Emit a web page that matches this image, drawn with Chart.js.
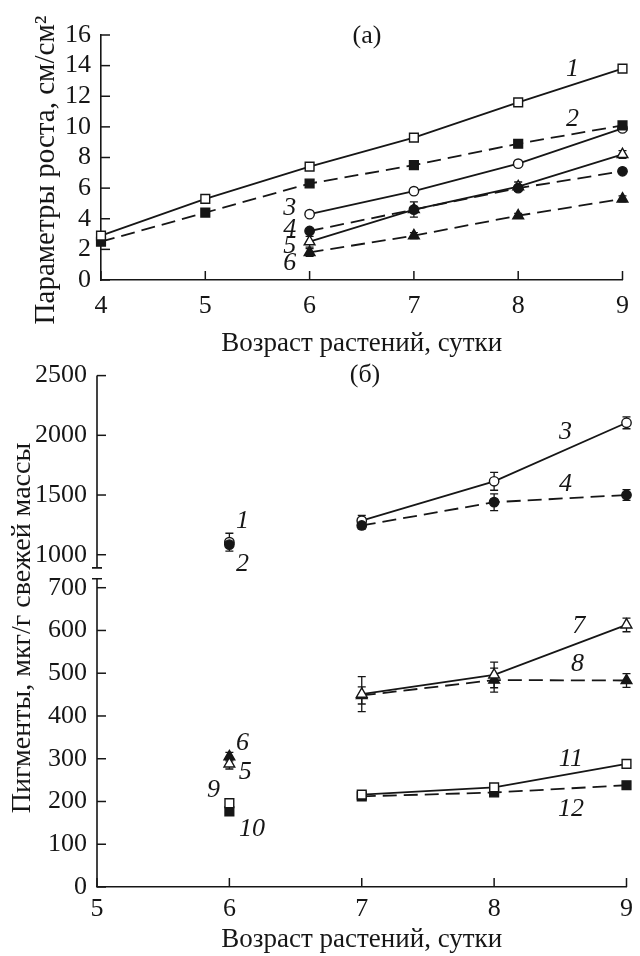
<!DOCTYPE html>
<html>
<head>
<meta charset="utf-8">
<script src="https://cdn.jsdelivr.net/npm/chart.js@4.4.1/dist/chart.umd.min.js"></script>
<style>
  html, body { margin: 0; padding: 0; background: #fff; }
  canvas { position: absolute; left: 0; }
  #chartA { top: 0; }
  #chartB { top: 350px; }
</style>
</head>
<body>
<canvas id="chartA" width="640" height="365"></canvas>
<canvas id="chartB" width="640" height="606"></canvas>
<script>
// ============================
// Данные: (а) параметры роста
// ============================
const daysA = [4, 5, 6, 7, 8, 9];
const daysLate = [6, 7, 8, 9];
const growth1 = [2.9, 5.3, 7.4, 9.3, 11.6, 13.8];
const growth2 = [2.5, 4.4, 6.3, 7.5, 8.9, 10.1];
const growth3 = [4.3, 5.8, 7.6, 9.9];
const growth4 = [3.2, 4.6, 6.0, 7.1];
const growth5 = [2.5, 4.6, 6.1, 8.2];
const growth6 = [1.8, 2.9, 4.2, 5.3];
const growth5Err = [0.35, 0.5, 0.3, 0.25];
const growth6Err = [0.25, 0.2, 0.15, 0.2];
const xTicksA = [4, 5, 6, 7, 8, 9];
const yTicksA = [0, 2, 4, 6, 8, 10, 12, 14, 16];

// ============================
// Данные: (б) пигменты
// ============================
const day6 = [6];
const daysB = [7, 8, 9];
const pig1 = [1105];
const pig1Err = [75];
const pig2 = [1085];
const pig3 = [1285, 1615, 2105];
const pig3Err = [45, 75, 50];
const pig4 = [1245, 1440, 1500];
const pig4Err = [30, 70, 45];
const pig5 = [288];
const pig5Err = [12];
const pig6 = [305];
const pig6Err = [10];
const pig7 = [451, 496, 613];
const pig7Err = [41, 30, 16];
const pig8 = [448, 484, 483];
const pig8Err = [20, 28, 16];
const pig9 = [196];
const pig10 = [177];
const pig11 = [216, 233, 288];
const pig12 = [212, 221, 238];
const xTicksB = [5, 6, 7, 8, 9];
const yTicksHigh = [1000, 1500, 2000, 2500];
const yTicksLow = [0, 100, 200, 300, 400, 500, 600, 700];

// подписи кривых (номер, x, y)
const curveLabelsA = [
  ["1", 8.52, 13.8], ["2", 8.52, 10.5], ["3", 5.81, 4.7],
  ["4", 5.81, 3.35], ["5", 5.81, 2.24], ["6", 5.81, 1.07],
];
const curveLabelsHigh = [
  ["1", 6.1, 1277], ["2", 6.1, 922], ["3", 8.54, 2027], ["4", 8.54, 1592],
];
const curveLabelsLow = [
  ["7", 8.64, 611], ["8", 8.63, 522], ["6", 6.1, 336], ["5", 6.12, 268],
  ["9", 5.88, 227], ["10", 6.17, 135], ["11", 8.58, 300], ["12", 8.58, 182],
];

// ============================
// Общие настройки
// ============================
const SERIF = '"Liberation Serif", "DejaVu Serif", serif';
const INK = "#161616";
Chart.defaults.font.family = SERIF;
Chart.defaults.color = INK;

function makeSet(xs, ys, shape, filled, dashed, extra) {
  return Object.assign(
    {
      data: xs.map((x, i) => ({ x: x, y: ys[i] })),
      borderColor: INK,
      borderWidth: 1.8,
      borderDash: dashed ? [14, 7] : [],
      pointStyle: shape,
      pointRadius: shape === "circle" ? 4.7 : 6.2,
      pointBorderWidth: 1.4,
      pointBorderColor: INK,
      pointBackgroundColor: filled ? INK : "#ffffff",
      fill: false,
      tension: 0,
      clip: false,
    },
    extra || {}
  );
}

function useTicks(list) {
  return function (scale) {
    scale.ticks = list.map((v) => ({ value: v }));
  };
}

const plainTicks = {
  font: { size: 26, family: SERIF },
  color: INK,
  autoSkip: false,
  maxRotation: 0,
  callback: (v) => String(v),
};

// планки погрешностей
const errorBars = {
  id: "errorBars",
  beforeDatasetsDraw(chart) {
    const ctx = chart.ctx;
    ctx.save();
    ctx.strokeStyle = INK;
    ctx.lineWidth = 1.3;
    chart.data.datasets.forEach((ds, di) => {
      if (!ds.errors) return;
      const meta = chart.getDatasetMeta(di);
      const yScale = chart.scales[meta.yAxisID];
      meta.data.forEach((pt, i) => {
        const v = ds.data[i].y;
        const e = ds.errors[i];
        if (!e) return;
        const top = yScale.getPixelForValue(v + e);
        const bot = yScale.getPixelForValue(v - e);
        ctx.beginPath();
        ctx.moveTo(pt.x, top);
        ctx.lineTo(pt.x, bot);
        ctx.moveTo(pt.x - 4, top);
        ctx.lineTo(pt.x + 4, top);
        ctx.moveTo(pt.x - 4, bot);
        ctx.lineTo(pt.x + 4, bot);
        ctx.stroke();
      });
    });
    ctx.restore();
  },
};

// засечки внутрь области графика
const innerTicks = {
  id: "innerTicks",
  afterDraw(chart) {
    const ctx = chart.ctx;
    const area = chart.chartArea;
    ctx.save();
    ctx.strokeStyle = INK;
    ctx.lineWidth = 1.5;
    Object.values(chart.scales).forEach((scale) => {
      scale.ticks.forEach((t) => {
        const p = scale.getPixelForValue(t.value);
        ctx.beginPath();
        if (scale.isHorizontal()) {
          ctx.moveTo(p, area.bottom);
          ctx.lineTo(p, area.bottom - 9);
        } else {
          ctx.moveTo(area.left, p);
          ctx.lineTo(area.left + 9, p);
        }
        ctx.stroke();
      });
    });
    ctx.restore();
  },
};

// текст поверх графика: номера кривых, буква панели, подпись оси Y
const textMarks = {
  id: "textMarks",
  afterDraw(chart, args, opts) {
    const ctx = chart.ctx;
    ctx.save();
    ctx.fillStyle = INK;
    ctx.textAlign = "center";
    ctx.textBaseline = "middle";
    ctx.font = "italic 26px " + SERIF;
    opts.groups.forEach((g) => {
      const xs = chart.scales.x;
      const ys = chart.scales[g.axis];
      g.labels.forEach(([txt, x, y]) => {
        ctx.fillText(txt, xs.getPixelForValue(x), ys.getPixelForValue(y));
      });
    });
    ctx.font = "26px " + SERIF;
    ctx.fillText(opts.panel, opts.panelX, opts.panelY);
    ctx.translate(opts.yTitleX, opts.yTitleY);
    ctx.rotate(-Math.PI / 2);
    ctx.font = opts.yTitleSize + "px " + SERIF;
    ctx.fillText(opts.yTitle, 0, 0);
    ctx.restore();
  },
};

// разрыв оси ординат
const axisBreak = {
  id: "axisBreak",
  afterDraw(chart, args, opts) {
    const ctx = chart.ctx;
    const left = chart.chartArea.left;
    const hi = chart.scales.yHigh;
    const lo = chart.scales.yLow;
    const yHiEnd = hi.getPixelForValue(opts.highStart);
    const yLoEnd = lo.getPixelForValue(opts.lowEnd);
    ctx.save();
    ctx.strokeStyle = INK;
    ctx.lineWidth = 1.6;
    ctx.beginPath();
    ctx.moveTo(left, hi.top);
    ctx.lineTo(left, yHiEnd);
    ctx.moveTo(left, yLoEnd);
    ctx.lineTo(left, lo.bottom);
    ctx.moveTo(left - 5, yHiEnd);
    ctx.lineTo(left + 5, yHiEnd);
    ctx.moveTo(left - 5, yLoEnd);
    ctx.lineTo(left + 5, yLoEnd);
    ctx.stroke();
    ctx.restore();
  },
};

const titleFont = { size: 27, family: SERIF };
const noGrid = { display: false, drawTicks: false };
const border = { display: true, color: INK, width: 1.6 };

// ============================
// Панель (а)
// ============================
new Chart(document.getElementById("chartA"), {
  type: "line",
  data: {
    datasets: [
      makeSet(daysA, growth1, "rect", false, false),
      makeSet(daysA, growth2, "rect", true, true),
      makeSet(daysLate, growth3, "circle", false, false),
      makeSet(daysLate, growth4, "circle", true, true),
      makeSet(daysLate, growth5, "triangle", false, false, { errors: growth5Err }),
      makeSet(daysLate, growth6, "triangle", true, true, { errors: growth6Err }),
    ],
  },
  options: {
    responsive: false,
    animation: false,
    events: [],
    layout: { padding: { top: 35, right: 9, bottom: 5, left: 0 } },
    plugins: {
      legend: { display: false },
      tooltip: { enabled: false },
      textMarks: {
        groups: [{ axis: "y", labels: curveLabelsA }],
        panel: "(а)",
        panelX: 367,
        panelY: 36,
        yTitle: "Параметры роста, см/см²",
        yTitleX: 46,
        yTitleY: 170,
        yTitleSize: 29,
      },
    },
    scales: {
      x: {
        type: "linear",
        min: 4,
        max: 9,
        afterBuildTicks: useTicks(xTicksA),
        afterFit: (s) => { s.height = 80; },
        grid: noGrid,
        border: border,
        ticks: Object.assign({ padding: 11 }, plainTicks),
        title: {
          display: true,
          text: "Возраст растений, сутки",
          font: titleFont,
          color: INK,
          padding: { top: 0, bottom: 0 },
        },
      },
      y: {
        type: "linear",
        min: 0,
        max: 16,
        afterBuildTicks: useTicks(yTicksA),
        afterFit: (s) => { s.width = 101; },
        grid: noGrid,
        border: border,
        ticks: Object.assign({ padding: 10 }, plainTicks),
      },
    },
  },
  plugins: [errorBars, innerTicks, textMarks],
});

// ============================
// Панель (б), ось с разрывом
// ============================
function hi(set) { set.yAxisID = "yHigh"; return set; }
function lo(set) { set.yAxisID = "yLow"; return set; }

new Chart(document.getElementById("chartB"), {
  type: "line",
  data: {
    datasets: [
      hi(makeSet(day6, pig2, "circle", true, false)),
      hi(makeSet(day6, pig1, "circle", false, false, { errors: pig1Err })),
      hi(makeSet(daysB, pig4, "circle", true, true, { errors: pig4Err })),
      hi(makeSet(daysB, pig3, "circle", false, false, { errors: pig3Err })),
      lo(makeSet(day6, pig5, "triangle", false, false, { errors: pig5Err })),
      lo(makeSet(day6, pig6, "triangle", true, false, { errors: pig6Err })),
      lo(makeSet(daysB, pig7, "triangle", false, false, { errors: pig7Err })),
      lo(makeSet(daysB, pig8, "triangle", true, true, { errors: pig8Err })),
      lo(makeSet(day6, pig9, "rect", false, false)),
      lo(makeSet(day6, pig10, "rect", true, false)),
      lo(makeSet(daysB, pig11, "rect", false, false)),
      lo(makeSet(daysB, pig12, "rect", true, true)),
    ],
  },
  options: {
    responsive: false,
    animation: false,
    events: [],
    layout: { padding: { top: 23, right: 11, bottom: 0, left: 0 } },
    plugins: {
      legend: { display: false },
      tooltip: { enabled: false },
      textMarks: {
        groups: [
          { axis: "yHigh", labels: curveLabelsHigh },
          { axis: "yLow", labels: curveLabelsLow },
        ],
        panel: "(б)",
        panelX: 365,
        panelY: 25,
        yTitle: "Пигменты, мкг/г свежей массы",
        yTitleX: 23,
        yTitleY: 278,
        yTitleSize: 28,
      },
      axisBreak: { highStart: 890, lowEnd: 721 },
    },
    scales: {
      x: {
        type: "linear",
        min: 5,
        max: 9,
        afterBuildTicks: useTicks(xTicksB),
        afterFit: (s) => { s.height = 69; },
        grid: noGrid,
        border: border,
        ticks: Object.assign({ padding: 7 }, plainTicks),
        title: {
          display: true,
          text: "Возраст растений, сутки",
          font: titleFont,
          color: INK,
          padding: { top: 0, bottom: 0 },
        },
      },
      yLow: {
        type: "linear",
        position: "left",
        stack: "pigments",
        stackWeight: 315,
        min: 0,
        max: 733,
        afterBuildTicks: useTicks(yTicksLow),
        afterFit: (s) => { s.width = 97; },
        grid: noGrid,
        border: { display: false },
        ticks: Object.assign({ padding: 10 }, plainTicks),
      },
      yHigh: {
        type: "linear",
        position: "left",
        stack: "pigments",
        stackWeight: 199,
        min: 842,
        max: 2500,
        afterBuildTicks: useTicks(yTicksHigh),
        afterFit: (s) => { s.width = 97; },
        grid: noGrid,
        border: { display: false },
        ticks: Object.assign({ padding: 10 }, plainTicks),
      },
    },
  },
  plugins: [errorBars, innerTicks, textMarks, axisBreak],
});
</script>
</body>
</html>
